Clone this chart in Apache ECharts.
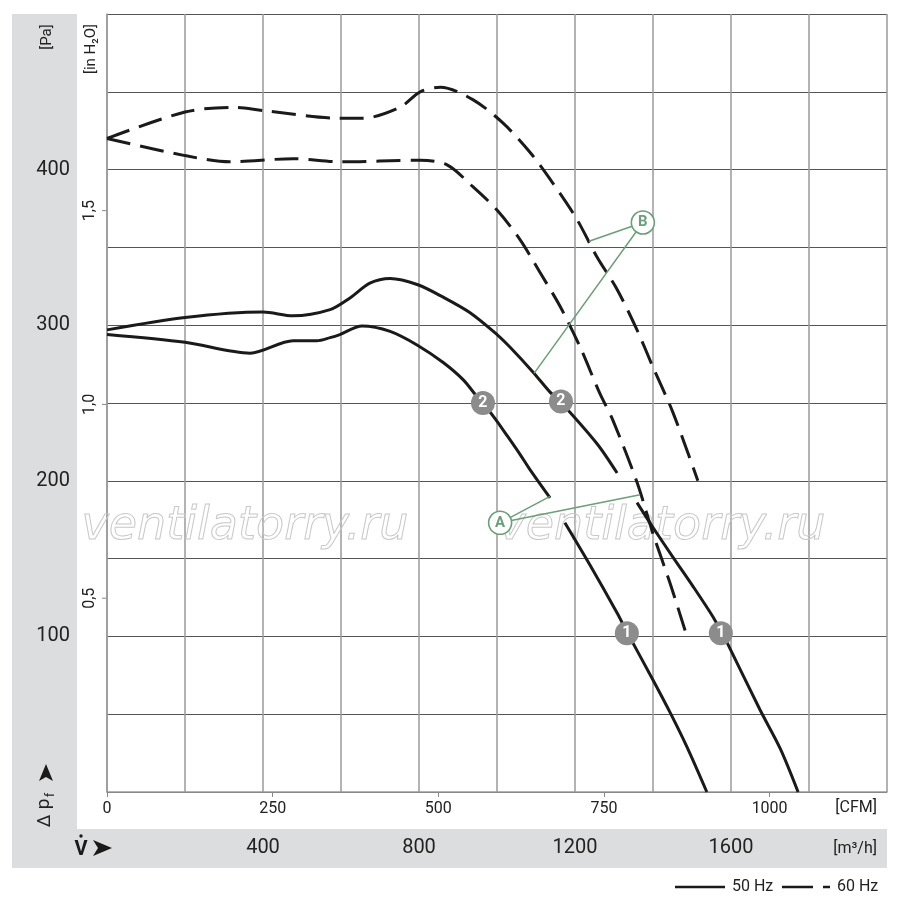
<!DOCTYPE html>
<html>
<head>
    <meta charset="UTF-8">
    <title>Fan curve</title>
    <script src="https://cdn.jsdelivr.net/npm/echarts@6/dist/echarts.min.js"></script>
    <style>html,body{margin:0;padding:0;background:#fff;}</style>
</head>

<body>
    <div id="main" style="width:900px;height:907px;"></div>
    <script>
        // flow in m3/h, pressure in Pa
        var curve60Upper = [[0,420],[200,437],[323,440],[400,438],[597,433],[656,433],[751,440],[803,450],[855,453],[938,445],[1015,430],[1085,411],[1144,391],[1205,368],[1256,344],[1308,323],[1359,297],[1400,273],[1451,244],[1515,200]];
        var curve60Lower = [[0,420],[200,409],[315,405],[477,407],[597,405],[803,406],[872,403],[938,389],[1000,374],[1059,355],[1110,334],[1162,312],[1213,286],[1264,256],[1297,239],[1359,199],[1400,166],[1444,134],[1487,100]];
        var curve50Upper = [[0,297],[200,305],[400,308.5],[477,306],[572,310],[623,317.5],[674,327],[726,330],[797,326],[862,318],[931,308],[1000,294],[1033,286],[1092,270],[1136,257],[1162,251],[1256,224],[1308,205]];
        var curve50Lower = [[0,294],[200,289],[367,282],[477,290],[538,290],[572,292],[597,294],[654,299.5],[726,296],[797,287],[862,276],[913,265],[949,254],[964,250],[995,240],[1026,229],[1059,217],[1085,207],[1136,189]];
        var curve1Left = [[1174,173],[1238,146],[1308,115],[1333,103],[1400,72],[1444,51],[1487,29],[1538,0]];
        var curve1Right = [[1359,186],[1400,170],[1451,151],[1503,132],[1554,112.5],[1577,102],[1590,96],[1674,53],[1726,28],[1772,0]];

        // green leader lines: end -> circle -> end
        var leaderA = [[1136,190],[1008,173],[1367,191]];
        var leaderB = [[1236,354],[1374,366],[1095,269]];

        // numbered badges and letter circles: [m3/h, Pa, text]
        var badges = [[964,250,'2'],[1164,251,'2'],[1333,102,'1'],[1574,102,'1']];
        var letters = [[1008,173,'A'],[1374,366,'B']];

        // tick labels
        var m3hLabels = [400, 800, 1200, 1600];
        var cfmLabels = [0, 250, 500, 750, 1000];
        var paLabels = [100, 200, 300, 400];
        var inH2oLabels = [0.5, 1.0, 1.5];

        var M3H_PER_CFM = 1.699;
        var PA_PER_INH2O = 249.09;

        var font = "Roboto, 'Liberation Sans', sans-serif";
        var ink = '#1a1a1a';
        var green = '#6a9f78';
        var band = '#dcddde';

        var myChart = echarts.init(document.getElementById('main'));

        function curve(data, dashed) {
            return {
                type: 'line',
                data: data,
                smooth: 0.3,
                symbol: 'none',
                silent: true,
                z: 3,
                lineStyle: { color: ink, width: 3, type: dashed ? [24, 10] : 'solid' }
            };
        }

        function leader(data) {
            return {
                type: 'line', data: data, symbol: 'none', silent: true, z: 4,
                lineStyle: { color: green, width: 1.5 }
            };
        }

        var gridRect = { left: 107, top: 14, width: 780, height: 778 };

        var graphics = [
            // grey bands
            { type: 'rect', z: -10, shape: { x: 12, y: 14, width: 65, height: 815 }, style: { fill: band } },
            { type: 'rect', z: -10, shape: { x: 12, y: 829, width: 875, height: 39 }, style: { fill: band } },
            // unit captions
            { type: 'text', x: 47, y: 37, rotation: Math.PI / 2,
              style: { text: '[Pa]', font: '15px ' + font, fill: '#222', textAlign: 'center', textVerticalAlign: 'middle' } },
            { type: 'text', x: 91, y: 49, rotation: Math.PI / 2,
              style: { text: '[in H\u2082O]', font: '15px ' + font, fill: '#222', textAlign: 'center', textVerticalAlign: 'middle' } },
            { type: 'text', x: 877, y: 808,
              style: { text: '[CFM]', font: '16px ' + font, fill: '#222', textAlign: 'right', textVerticalAlign: 'middle' } },
            { type: 'text', x: 877, y: 849,
              style: { text: '[m\u00b3/h]', font: '16px ' + font, fill: '#222', textAlign: 'right', textVerticalAlign: 'middle' } },
            // delta p_f with arrow
            { type: 'text', x: 45, y: 821, rotation: Math.PI / 2,
              style: { text: '\u0394', font: '18px ' + font, fill: '#222', textAlign: 'center', textVerticalAlign: 'middle' } },
            { type: 'text', x: 44, y: 804, rotation: Math.PI / 2,
              style: { text: 'p', font: '19px ' + font, fill: '#222', textAlign: 'center', textVerticalAlign: 'middle' } },
            { type: 'text', x: 51, y: 795, rotation: Math.PI / 2,
              style: { text: 'f', font: '12px ' + font, fill: '#222', textAlign: 'center', textVerticalAlign: 'middle' } },
            { type: 'polygon', shape: { points: [[46, 764], [53, 781], [46, 777], [39, 781]] }, style: { fill: '#1a1a1a' } },
            // V-dot with arrow
            { type: 'text', x: 81, y: 850,
              style: { text: 'V', font: 'bold 20px ' + font, fill: '#1a1a1a', textAlign: 'center', textVerticalAlign: 'middle' } },
            { type: 'circle', shape: { cx: 81, cy: 836, r: 1.7 }, style: { fill: '#1a1a1a' } },
            { type: 'polygon', shape: { points: [[112, 848], [93, 840], [98, 848], [93, 856]] }, style: { fill: '#1a1a1a' } },
            // legend
            { type: 'line', shape: { x1: 675, y1: 887, x2: 725, y2: 887 }, style: { stroke: ink, lineWidth: 2.5 } },
            { type: 'text', x: 732, y: 887,
              style: { text: '50 Hz', font: '16px ' + font, fill: '#222', textAlign: 'left', textVerticalAlign: 'middle' } },
            { type: 'line', shape: { x1: 782, y1: 887, x2: 830, y2: 887 }, style: { stroke: ink, lineWidth: 2.5, lineDash: [31, 10] } },
            { type: 'text', x: 837, y: 887,
              style: { text: '60 Hz', font: '16px ' + font, fill: '#222', textAlign: 'left', textVerticalAlign: 'middle' } },
            // watermark
            { type: 'text', x: 245, y: 527, z: 1, silent: true,
              style: { text: 'ventilatorry.ru', font: 'italic 46px "DejaVu Sans"', fill: 'rgba(0,0,0,0)', stroke: '#c8c8c8', lineWidth: 1, textAlign: 'center', textVerticalAlign: 'middle' } },
            { type: 'text', x: 662, y: 527, z: 1, silent: true,
              style: { text: 'ventilatorry.ru', font: 'italic 46px "DejaVu Sans"', fill: 'rgba(0,0,0,0)', stroke: '#c8c8c8', lineWidth: 1, textAlign: 'center', textVerticalAlign: 'middle' } }
        ];

        var option = {
            backgroundColor: '#fff',
            animation: false,
            textStyle: { fontFamily: font },
            grid: [
                Object.assign({}, gridRect),
                Object.assign({}, gridRect)
            ],
            xAxis: [{
                type: 'value', gridIndex: 0, min: 0, max: 2000, interval: 200,
                axisLine: { show: true, lineStyle: { color: '#999', width: 1.5 } },
                axisTick: { show: false },
                axisLabel: {
                    margin: 46, fontSize: 20, color: '#222', fontFamily: font,
                    customValues: m3hLabels,
                    formatter: function (v) { return String(v); }
                },
                splitLine: { lineStyle: { color: '#9a9a9a', width: 1.5 } }
            }, {
                type: 'value', gridIndex: 1, min: 0, max: 2000 / M3H_PER_CFM,
                axisLine: { show: false },
                axisTick: { show: true, length: 5, customValues: cfmLabels, lineStyle: { color: '#888' } },
                axisLabel: {
                    margin: 9, fontSize: 16, color: '#222', fontFamily: font,
                    customValues: cfmLabels,
                    formatter: function (v) { return String(v); }
                },
                splitLine: { show: false }
            }],
            yAxis: [{
                type: 'value', gridIndex: 0, min: 0, max: 500, interval: 50,
                axisLine: { show: true, lineStyle: { color: '#999', width: 1.5 } },
                axisTick: { show: false },
                axisLabel: {
                    margin: 37, fontSize: 20, color: '#222', fontFamily: font,
                    customValues: paLabels,
                    formatter: function (v) { return String(v); }
                },
                splitLine: { lineStyle: { color: '#555', width: 1 } }
            }, {
                type: 'value', gridIndex: 1, min: 0, max: 500 / PA_PER_INH2O,
                axisLine: { show: false },
                axisTick: { show: false },
                axisLabel: {
                    margin: 9, fontSize: 16, color: '#222', fontFamily: font, rotate: 90,
                    customValues: inH2oLabels,
                    formatter: function (v) { return v.toFixed(1).replace('.', ','); }
                },
                splitLine: { show: false }
            }],
            graphic: graphics,
            series: [
                curve(curve50Upper, false),
                curve(curve50Lower, false),
                curve(curve1Left, false),
                curve(curve1Right, false),
                curve(curve60Upper, true),
                curve(curve60Lower, true),
                leader(leaderA),
                leader(leaderB),
                {
                    type: 'scatter', data: badges, symbolSize: 24, silent: true, z: 6,
                    itemStyle: { color: '#8c8c8c', opacity: 1 },
                    label: { show: true, position: 'inside', color: '#fff', fontSize: 16, fontWeight: 'bold', fontFamily: font,
                             formatter: function (p) { return p.value[2]; } }
                },
                {
                    type: 'scatter', data: letters, symbolSize: 23, silent: true, z: 6,
                    itemStyle: { color: '#fff', borderColor: green, borderWidth: 1.6, opacity: 1 },
                    label: { show: true, position: 'inside', color: green, fontSize: 15, fontWeight: 'bold', fontFamily: font,
                             formatter: function (p) { return p.value[2]; } }
                }
            ]
        };

        myChart.setOption(option);

        // short outward ticks for the in H2O scale, placed through the axis
        var inTicks = inH2oLabels.map(function (v) {
            var py = myChart.convertToPixel({ yAxisIndex: 1 }, v);
            return { type: 'line', shape: { x1: 102, y1: py, x2: 107, y2: py }, style: { stroke: '#888', lineWidth: 1 } };
        });
        myChart.setOption({ graphic: graphics.concat(inTicks) });
    </script>
</body>
</html>
